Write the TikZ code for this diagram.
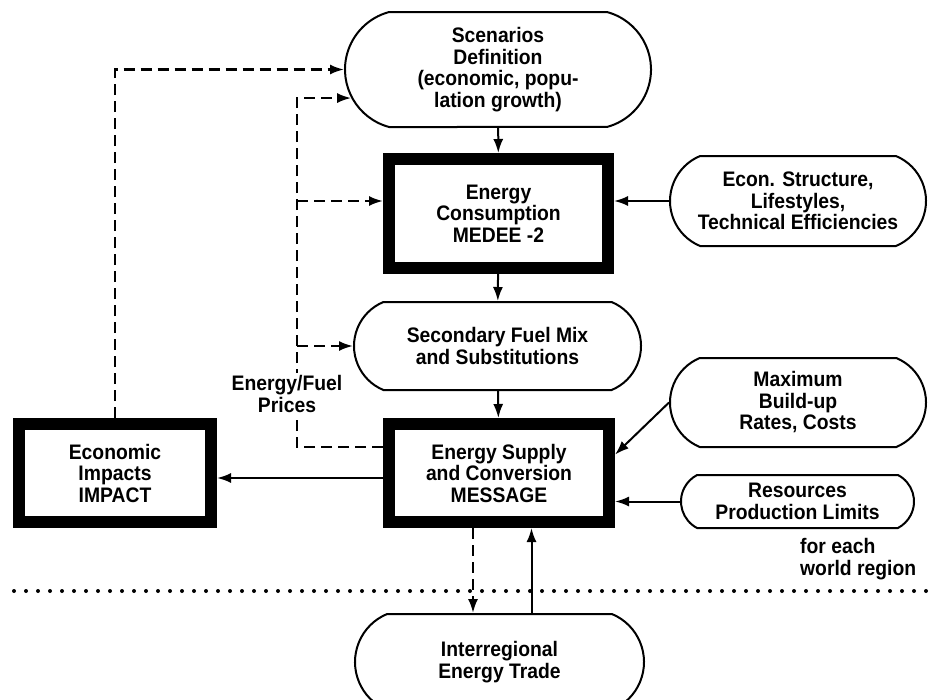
\documentclass[tikz,border=0pt]{standalone}
\usepackage{fontspec}
\setmainfont[FakeStretch=0.92]{Liberation Sans}
\usetikzlibrary{shapes.misc, arrows.meta, positioning, calc}

\tikzset{
  softbox/.style={draw, line width=2pt, rounded rectangle, rounded rectangle arc length=135, align=center, inner sep=2pt},
  modelbox/.style={draw, line width=12pt, rectangle, align=center, inner sep=2pt},
  flow/.style={line width=2pt, -{Latex[length=14pt, width=10pt]}},
  feedback/.style={flow, line width=2.2pt, dash pattern=on 11pt off 6pt},
}

\begin{document}
\begin{tikzpicture}[x=1pt, y=-1pt, font=\bfseries\fontsize{21}{21.5}\selectfont]
  \useasboundingbox (0, 0) rectangle (929, 699);

  \node[softbox, rounded rectangle arc length=150, minimum width=310pt, minimum height=115pt] (scen) at (498, 69.5) {Scenarios\\Definition\\(economic, popu-\\lation growth)};
  \node[modelbox, minimum width=219pt, minimum height=109pt] (cons) at (498.5, 213.5) {Energy\\Consumption\\MEDEE -2};
  \node[softbox, minimum width=260pt, minimum height=90pt] (econ) at (798, 201) {Econ. Structure,\\Lifestyles,\\Technical Efficiencies};
  \node[softbox, minimum width=291pt, minimum height=88pt] (fuel) at (497.5, 346) {Secondary Fuel Mix\\and Substitutions};
  \node[modelbox, minimum width=220pt, minimum height=98pt] (supply) at (499, 473) {Energy Supply\\and Conversion\\MESSAGE};
  \node[softbox, minimum width=260pt, minimum height=89pt] (maxb) at (798, 402.5) {Maximum\\Build-up\\Rates, Costs};
  \node[softbox, rounded rectangle arc length=125, minimum width=237pt, minimum height=53pt] (res) at (797.5, 501.5) {Resources\\Production Limits};
  \node[modelbox, minimum width=192pt, minimum height=98pt] (impacts) at (115, 473) {Economic\\Impacts\\IMPACT};
  \node[softbox, minimum width=293pt, minimum height=96pt] (trade) at (499.5, 662) {Interregional\\Energy Trade};
  \node[anchor=west, align=left, inner sep=0pt] (region) at (800, 559) {for each\\world region};

  \coordinate (bus) at (297, 0);

  \draw[flow] (scen) -- (cons);
  \draw[flow] (cons) -- (fuel);
  \draw[flow] (fuel) -- (supply);
  \draw[flow] (econ.west) -- (econ.west -| cons.east);
  \draw[flow] (maxb.west) -- (supply.9);
  \draw[flow] (res.west) -- (res.west -| supply.east);
  \draw[flow] ([yshift=-5pt]supply.west) -- ([yshift=-5pt]impacts.east);
  \draw[flow] ([xshift=32pt]trade.north) -- ([xshift=32pt]trade.north |- supply.south);

  \draw[feedback] (impacts.north) |- (scen.west);
  \draw[feedback] ([yshift=26pt]supply.west) -| (scen.191 -| bus) -- (scen.191);
  \draw[feedback] (econ.west -| bus) -- (econ.west -| cons.west);
  \draw[feedback] (fuel.west -| bus) -- (fuel.west);
  \draw[feedback] ([xshift=-26pt]supply.south) -- ([xshift=-26pt]supply.south |- trade.north);

  \node[fill=white, align=center, inner sep=3pt] (prices) at (287, 394) {Energy/Fuel\\Prices};

  \draw[line width=4pt, line cap=round, dash pattern=on 0pt off 12pt] (14, 591) -- (926, 591);
\end{tikzpicture}
\end{document}
